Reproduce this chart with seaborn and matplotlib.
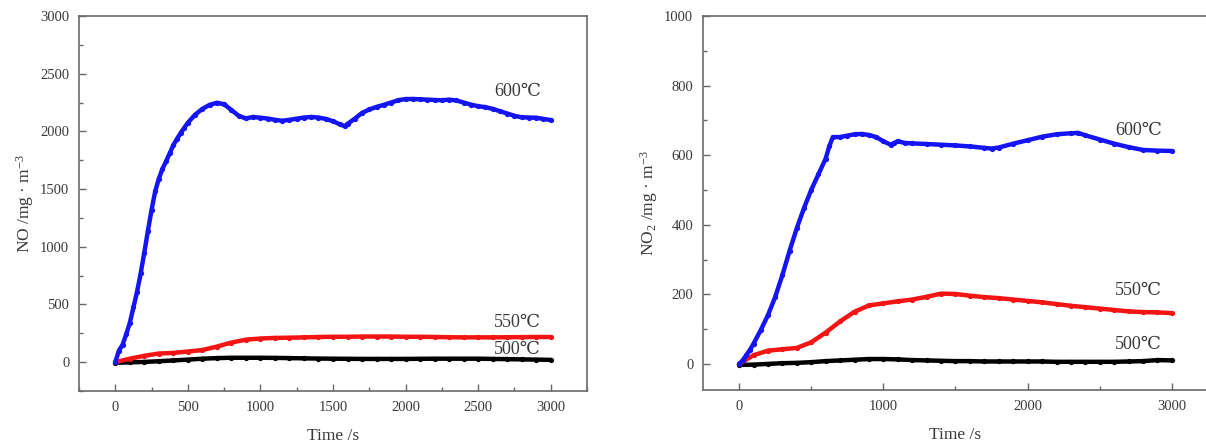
import matplotlib
matplotlib.use("Agg")
import matplotlib.pyplot as plt
import seaborn as sns
from matplotlib.ticker import MultipleLocator

# ---------------- data ----------------
no_600_t = [0, 25, 50, 75, 100, 125, 150, 175, 200, 225, 250, 275, 300, 325, 350, 375, 400, 425, 450, 475, 500,
            550, 600, 650, 700, 750, 800, 850, 900, 950, 1000, 1050, 1100, 1150, 1200, 1250, 1300, 1350, 1400, 1450,
            1500, 1550, 1580, 1600, 1650, 1700, 1750, 1800, 1850, 1900, 1950, 2000, 2050, 2100, 2150, 2200, 2250,
            2300, 2350, 2400, 2450, 2500, 2550, 2600, 2650, 2700, 2750, 2800, 2850, 2900, 2950, 3000]
no_600 = [0, 100, 150, 240, 340, 475, 610, 770, 950, 1140, 1320, 1480, 1590, 1675, 1740, 1810, 1880, 1935, 1985, 2030, 2075,
          2145, 2195, 2230, 2248, 2235, 2185, 2135, 2112, 2125, 2118, 2111, 2100, 2092, 2100, 2110, 2120, 2125, 2120, 2108,
          2088, 2060, 2045, 2065, 2110, 2160, 2190, 2212, 2230, 2250, 2270, 2280, 2281, 2278, 2275, 2272, 2270,
          2275, 2268, 2250, 2232, 2218, 2210, 2195, 2175, 2155, 2135, 2122, 2120, 2118, 2108, 2098]

grid_t = [0, 100, 200, 300, 400, 500, 600, 700, 800, 900, 1000, 1100, 1200, 1300, 1400, 1500,
          1600, 1700, 1800, 1900, 2000, 2100, 2200, 2300, 2400, 2500, 2600, 2700, 2800, 2900, 3000]
no_550 = [0, 30, 55, 75, 80, 92, 105, 135, 170, 195, 205, 210, 212, 215, 218, 220,
          220, 222, 222, 222, 220, 220, 218, 216, 215, 215, 215, 216, 217, 218, 218]
no_500 = [-5, -2, 2, 8, 15, 22, 30, 35, 38, 38, 38, 37, 35, 33, 31, 30,
          29, 28, 28, 28, 28, 29, 30, 30, 30, 30, 28, 26, 24, 22, 20]

no2_600_t = [0, 25, 50, 75, 100, 150, 200, 250, 300, 350, 400, 450, 500, 550, 600, 625, 650,
             700, 750, 800, 850, 900, 950, 1000, 1050, 1075, 1100, 1150, 1200, 1300, 1400, 1500,
             1600, 1700, 1750, 1800, 1900, 2000, 2100, 2200, 2300, 2350, 2400, 2500, 2600, 2700,
             2800, 2900, 3000]
no2_600 = [0, 10, 25, 40, 58, 97, 140, 192, 255, 325, 390, 448, 500, 545, 590, 625, 652,
           652, 656, 660, 661, 658, 652, 640, 630, 635, 640, 635, 634, 632, 630, 628,
           625, 621, 619, 622, 633, 643, 653, 660, 663, 664, 657, 645, 633, 623,
           615, 613, 612]
no2_550 = [0, 25, 38, 42, 46, 62, 90, 122, 150, 168, 174, 180, 185, 193, 202, 201,
           196, 192, 189, 185, 181, 177, 172, 167, 163, 159, 155, 151, 149, 148, 146]
no2_500 = [-3, -2, 0, 2, 3, 5, 8, 10, 12, 14, 14, 13, 11, 10, 9, 8,
           8, 7, 7, 7, 7, 7, 6, 6, 6, 6, 6, 7, 8, 11, 10]

labels = ["600℃", "550℃", "500℃"]
no_label_y = [2350, 345, 110]
no2_label_y = [672, 212, 57]
label_x = 2770

# ---------------- style ----------------
sns.set_style("white")
plt.rcParams["font.family"] = ["Liberation Serif", "DejaVu Serif"]
plt.rcParams["mathtext.default"] = "regular"

BLUE = "#1414f5"
RED = "#f51414"
BLACK = "#000000"
SPINE = "#6a6a6a"
TXT = "#3a3a3a"

fig = plt.figure(figsize=(12.06, 4.47), dpi=100)
ax1 = fig.add_axes([79 / 1206, 1 - 391 / 447, (587 - 79) / 1206, (391 - 16) / 447])
ax2 = fig.add_axes([703 / 1206, 1 - 390 / 447, (1208 - 703) / 1206, (390 - 16) / 447])


def draw(ax, series):
    for t, v, c in series:
        sns.lineplot(x=t, y=v, ax=ax, color=c, linewidth=3.2, marker="o", markersize=3.8,
                     markeredgewidth=0, sort=False, estimator=None)


draw(ax1, [(grid_t, no_500, BLACK), (grid_t, no_550, RED), (no_600_t, no_600, BLUE)])
draw(ax2, [(grid_t, no2_500, BLACK), (grid_t, no2_550, RED), (no2_600_t, no2_600, BLUE)])

ax1.set_xlim(-250, 3250)
ax1.set_ylim(-250, 3000)
ax2.set_xlim(-250, 3250)
ax2.set_ylim(-75, 1000)

ax1.xaxis.set_major_locator(MultipleLocator(500))
ax1.xaxis.set_minor_locator(MultipleLocator(250))
ax1.yaxis.set_major_locator(MultipleLocator(500))
ax1.yaxis.set_minor_locator(MultipleLocator(250))
ax2.xaxis.set_major_locator(MultipleLocator(1000))
ax2.xaxis.set_minor_locator(MultipleLocator(500))
ax2.yaxis.set_major_locator(MultipleLocator(200))
ax2.yaxis.set_minor_locator(MultipleLocator(100))

for ax in (ax1, ax2):
    for s in ax.spines.values():
        s.set_color(SPINE)
        s.set_linewidth(1.2)
        s.set_visible(True)
    ax.tick_params(which="both", direction="in", colors=SPINE, labelcolor=TXT,
                   top=False, right=False, bottom=True, left=True, labelsize=10.5)
    ax.tick_params(which="major", length=5, width=1.0)
    ax.tick_params(which="minor", length=3, width=1.0)
    ax.tick_params(axis="x", pad=7)
    ax.tick_params(axis="y", pad=7)
    ax.set_xlabel("Time /s", fontsize=12.5, color=TXT, labelpad=10)
    ax.grid(False)

ax1.set_ylabel("NO /mg · m$^{-3}$", fontsize=12.5, color=TXT, labelpad=3)
ax2.set_ylabel("NO$_2$ /mg · m$^{-3}$", fontsize=12.5, color=TXT, labelpad=3)

for lab, y in zip(labels, no_label_y):
    ax1.text(label_x, y, lab, fontsize=13, color=TXT, ha="center", va="center")
for lab, y in zip(labels, no2_label_y):
    ax2.text(label_x, y, lab, fontsize=13, color=TXT, ha="center", va="center")

fig.savefig("out.png", dpi=100)
